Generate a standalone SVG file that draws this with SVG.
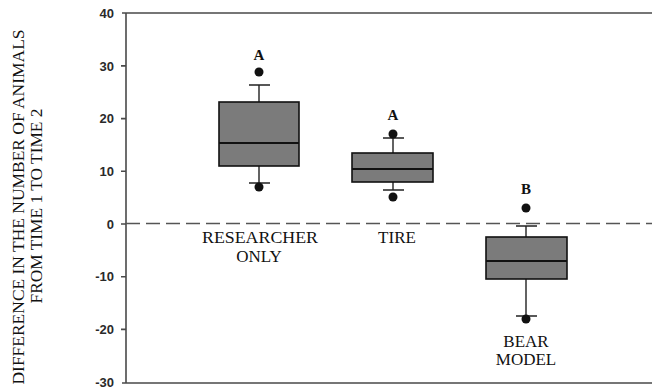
<svg xmlns="http://www.w3.org/2000/svg" width="652" height="392" viewBox="0 0 652 392">
<style>
.ax{stroke:#4a4a4a;stroke-width:1.6;fill:none}
.tk{font-family:"Liberation Sans",Arial,sans-serif;font-weight:bold;font-size:13px;fill:#2a2a2a;text-anchor:end}
.lbl{font-family:"Liberation Serif","Times New Roman",serif;font-size:17px;fill:#111;text-anchor:middle}
.sig{font-family:"Liberation Serif","Times New Roman",serif;font-size:15px;font-weight:bold;fill:#111;text-anchor:middle}
.box{fill:#7b7b7b;stroke:#111;stroke-width:1.6}
.wh{stroke:#222;stroke-width:1.4;fill:none}
.med{stroke:#111;stroke-width:2}
.pt{fill:#111}
</style>
<rect width="652" height="392" fill="#fff"/>
<g id="y-label">
<text class="lbl" transform="translate(24,207) rotate(-90)" textLength="355" lengthAdjust="spacingAndGlyphs">DIFFERENCE IN THE NUMBER OF ANIMALS</text>
<text class="lbl" transform="translate(42,206) rotate(-90)" textLength="195" lengthAdjust="spacingAndGlyphs">FROM TIME 1 TO TIME 2</text>
</g>
<g id="axes">
<path class="ax" d="M126,13 V383 M122,13 H652 M122,383 H652"/>
<path class="ax" d="M121,65.9 H126 M121,118.6 H126 M121,171.3 H126 M121,224 H126 M121,276.7 H126 M121,329.4 H126"/>
<text class="tk" x="114" y="17.5">40</text>
<text class="tk" x="114" y="70.5">30</text>
<text class="tk" x="114" y="123">20</text>
<text class="tk" x="114" y="176">10</text>
<text class="tk" x="114" y="228.5">0</text>
<text class="tk" x="114" y="281">-10</text>
<text class="tk" x="114" y="334">-20</text>
<text class="tk" x="114" y="387">-30</text>
</g>
<g id="zero-line">
<path d="M126,223.5 H652" stroke="#555" stroke-width="1.6" stroke-dasharray="14,6"/>
</g>
<g id="researcher-only">
<path class="wh" d="M259,85 V102 M249,85 H270 M259,166 V183 M249,183 H270"/>
<rect class="box" x="219" y="102" width="80" height="64"/>
<path class="med" d="M219,143 H299"/>
<circle class="pt" cx="259" cy="72" r="4.5"/>
<circle class="pt" cx="259" cy="187" r="4.5"/>
<text class="sig" x="259" y="60">A</text>
<text class="lbl" x="260" y="243" textLength="116" lengthAdjust="spacingAndGlyphs">RESEARCHER</text>
<text class="lbl" x="259" y="262">ONLY</text>
</g>
<g id="tire">
<path class="wh" d="M393,138 V153 M383,138 H404 M393,182 V190 M383,190 H404"/>
<rect class="box" x="352" y="153" width="81" height="29"/>
<path class="med" d="M352,169 H433"/>
<circle class="pt" cx="393" cy="134" r="4.5"/>
<circle class="pt" cx="393" cy="197" r="4.5"/>
<text class="sig" x="393" y="120">A</text>
<text class="lbl" x="397" y="243">TIRE</text>
</g>
<g id="bear-model">
<path class="wh" d="M526,226 V237 M516,226 H537 M526,279 V316 M516,316 H537"/>
<rect class="box" x="486" y="237" width="81" height="42"/>
<path class="med" d="M486,261 H567"/>
<circle class="pt" cx="526" cy="208" r="4.5"/>
<circle class="pt" cx="526" cy="319" r="4.5"/>
<text class="sig" x="526" y="194">B</text>
<text class="lbl" x="526" y="347">BEAR</text>
<text class="lbl" x="526" y="365">MODEL</text>
</g>
</svg>
